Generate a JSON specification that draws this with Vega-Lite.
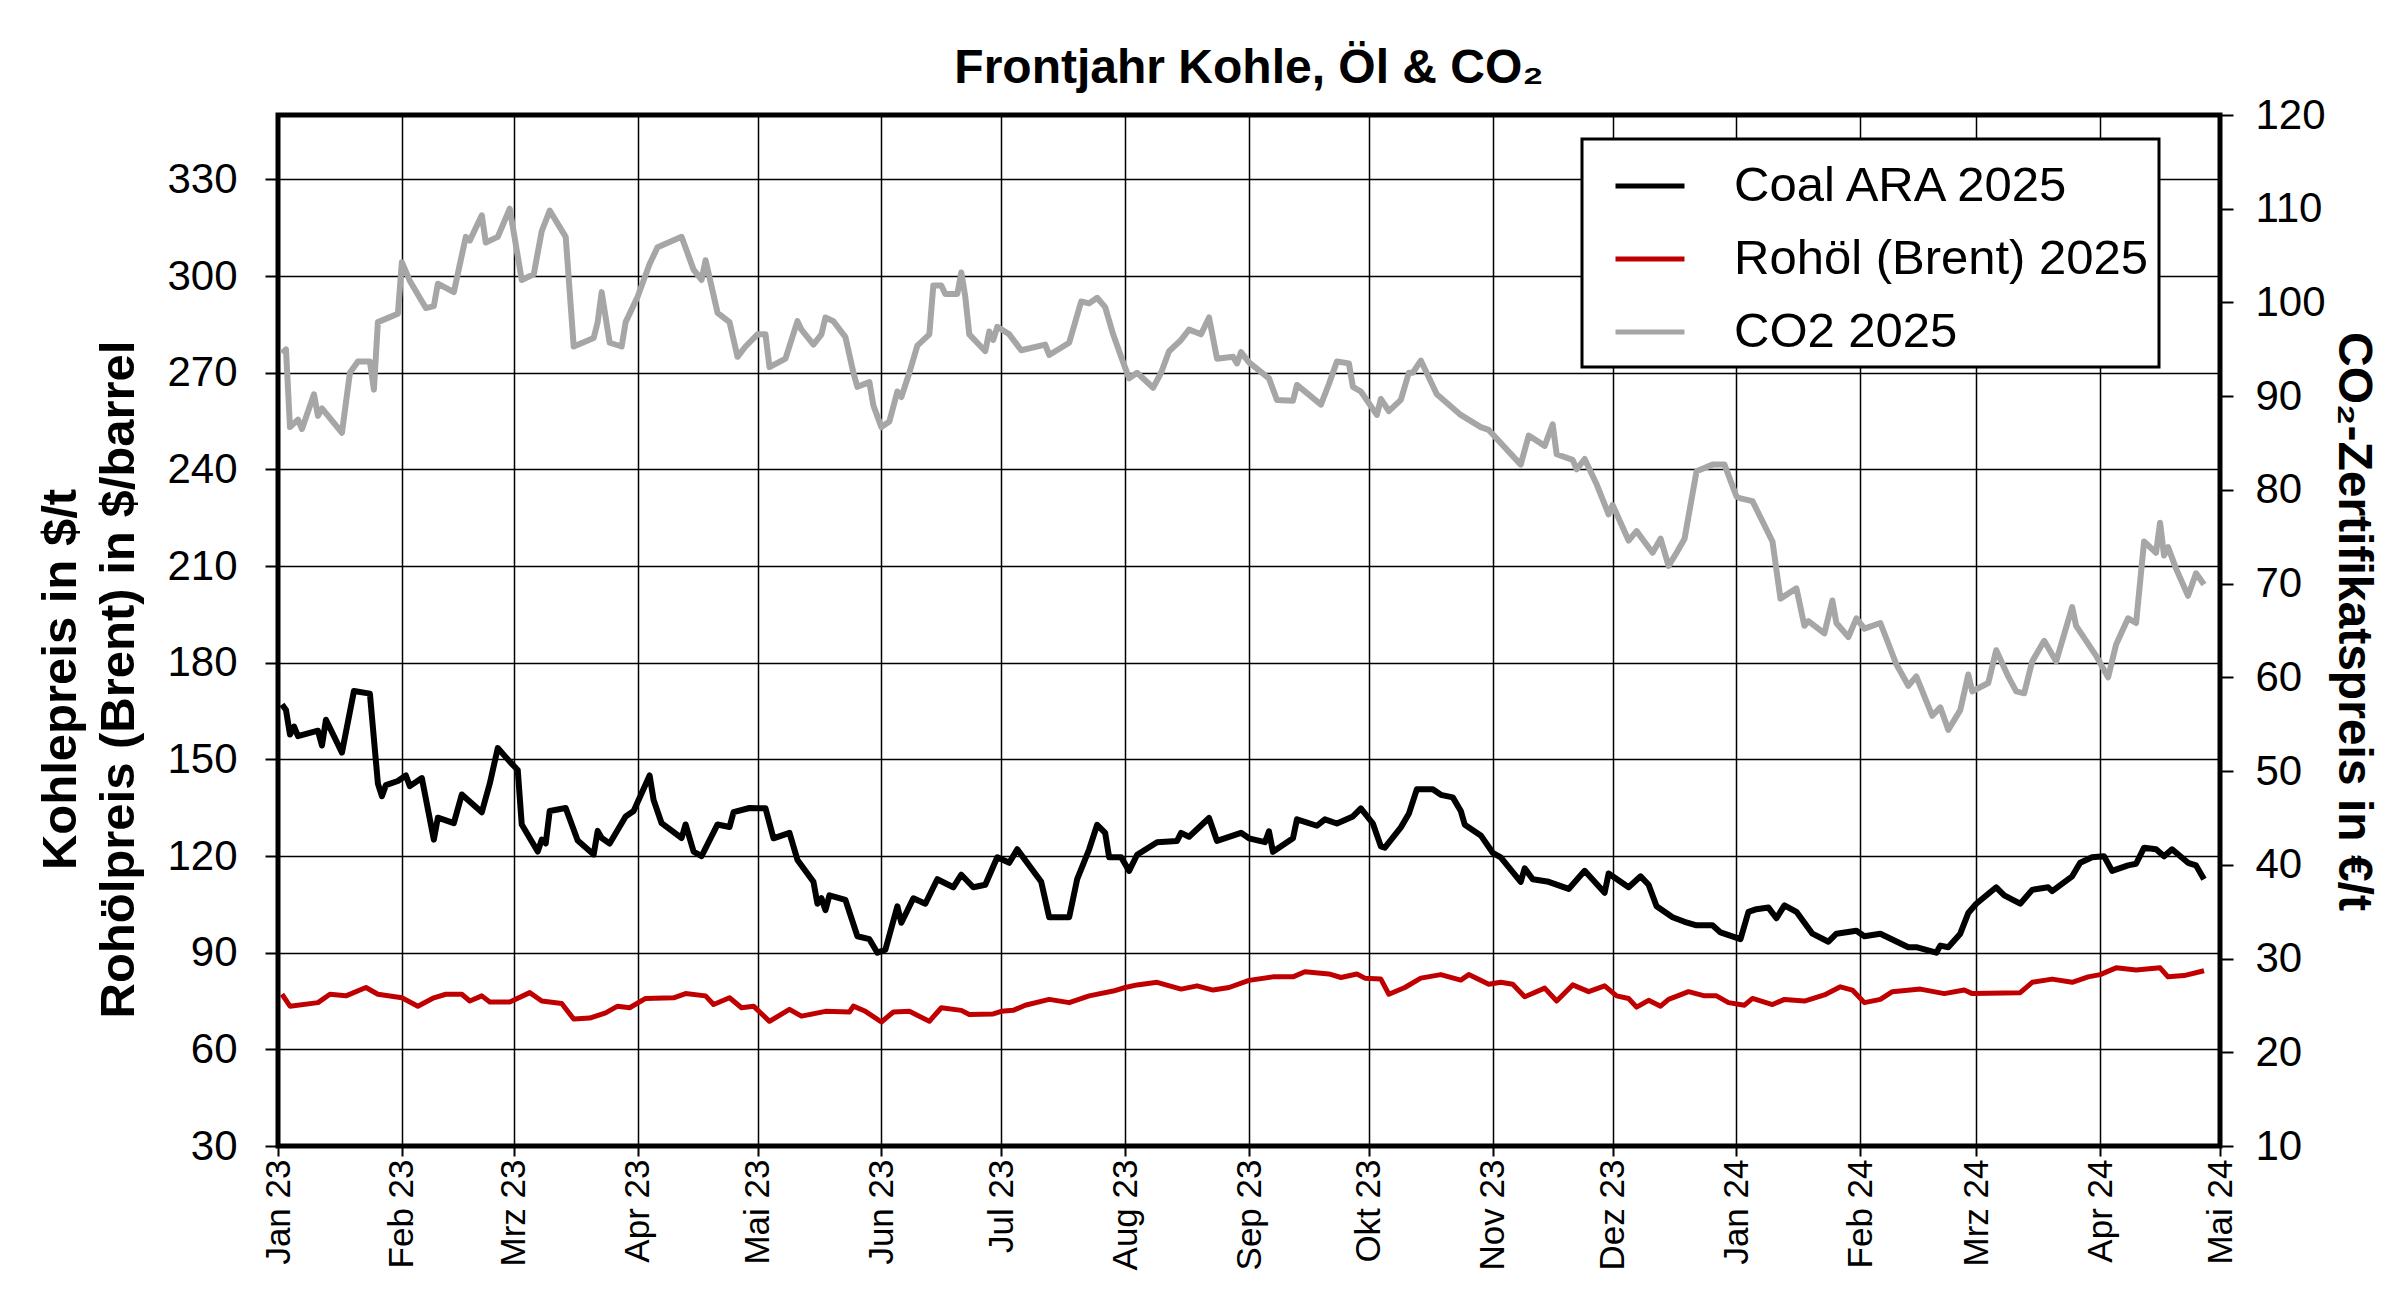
{
  "$schema": "https://vega.github.io/schema/vega-lite/v6.json",
  "width": 1942,
  "height": 1031,
  "autosize": {"type": "none"},
  "padding": {"left": 278, "top": 115, "right": 180, "bottom": 168},
  "background": "white",
  "title": {
    "text": "Frontjahr Kohle, Öl & CO₂",
    "fontSize": 48,
    "fontWeight": "bold",
    "color": "black",
    "anchor": "middle",
    "offset": 1
  },
  "datasets": {
    "coal": [
      {"date": "2023-01-02", "value": 167}, {"date": "2023-01-03", "value": 165.3}, {"date": "2023-01-04", "value": 157.7},
      {"date": "2023-01-05", "value": 160.2}, {"date": "2023-01-06", "value": 157.2}, {"date": "2023-01-11", "value": 158.9},
      {"date": "2023-01-12", "value": 154.3}, {"date": "2023-01-13", "value": 162.3}, {"date": "2023-01-17", "value": 152.1},
      {"date": "2023-01-20", "value": 171.2}, {"date": "2023-01-24", "value": 170.4}, {"date": "2023-01-26", "value": 142.5},
      {"date": "2023-01-27", "value": 138.6}, {"date": "2023-01-28", "value": 142}, {"date": "2023-01-31", "value": 143.3},
      {"date": "2023-02-02", "value": 145}, {"date": "2023-02-03", "value": 141.7}, {"date": "2023-02-06", "value": 144.2},
      {"date": "2023-02-09", "value": 125.1}, {"date": "2023-02-10", "value": 131.9}, {"date": "2023-02-14", "value": 130.2},
      {"date": "2023-02-16", "value": 139.1}, {"date": "2023-02-21", "value": 133.6}, {"date": "2023-02-23", "value": 142.5},
      {"date": "2023-02-25", "value": 153.5}, {"date": "2023-02-28", "value": 149.3}, {"date": "2023-03-02", "value": 146.7},
      {"date": "2023-03-03", "value": 129.8}, {"date": "2023-03-07", "value": 121.4}, {"date": "2023-03-08", "value": 125.1},
      {"date": "2023-03-09", "value": 123.9}, {"date": "2023-03-10", "value": 134}, {"date": "2023-03-14", "value": 134.9},
      {"date": "2023-03-17", "value": 124.8}, {"date": "2023-03-21", "value": 120.5}, {"date": "2023-03-22", "value": 127.8},
      {"date": "2023-03-23", "value": 125.6}, {"date": "2023-03-25", "value": 123.9}, {"date": "2023-03-29", "value": 132.3},
      {"date": "2023-03-31", "value": 134}, {"date": "2023-04-04", "value": 145}, {"date": "2023-04-05", "value": 137.4},
      {"date": "2023-04-07", "value": 130.2}, {"date": "2023-04-12", "value": 125.6}, {"date": "2023-04-13", "value": 129.8},
      {"date": "2023-04-15", "value": 121.4}, {"date": "2023-04-17", "value": 120}, {"date": "2023-04-21", "value": 129.8},
      {"date": "2023-04-24", "value": 129}, {"date": "2023-04-25", "value": 133.6}, {"date": "2023-04-29", "value": 134.9},
      {"date": "2023-05-01", "value": 134.8}, {"date": "2023-05-03", "value": 134.8}, {"date": "2023-05-05", "value": 125.5},
      {"date": "2023-05-09", "value": 127.2}, {"date": "2023-05-11", "value": 118.8}, {"date": "2023-05-15", "value": 112},
      {"date": "2023-05-16", "value": 105.2}, {"date": "2023-05-17", "value": 106.9}, {"date": "2023-05-18", "value": 103.2},
      {"date": "2023-05-19", "value": 107.8}, {"date": "2023-05-23", "value": 106.4}, {"date": "2023-05-26", "value": 95.1},
      {"date": "2023-05-29", "value": 94.2}, {"date": "2023-05-31", "value": 90}, {"date": "2023-06-02", "value": 90.9},
      {"date": "2023-06-05", "value": 104.4}, {"date": "2023-06-06", "value": 99.3}, {"date": "2023-06-09", "value": 106.9},
      {"date": "2023-06-12", "value": 105.2}, {"date": "2023-06-15", "value": 112.8}, {"date": "2023-06-19", "value": 110.3},
      {"date": "2023-06-21", "value": 114.2}, {"date": "2023-06-24", "value": 110.3}, {"date": "2023-06-27", "value": 111.1},
      {"date": "2023-06-30", "value": 119.6}, {"date": "2023-07-03", "value": 117.9}, {"date": "2023-07-05", "value": 122.1},
      {"date": "2023-07-11", "value": 112}, {"date": "2023-07-13", "value": 101}, {"date": "2023-07-18", "value": 101},
      {"date": "2023-07-20", "value": 112.8}, {"date": "2023-07-23", "value": 122.1}, {"date": "2023-07-25", "value": 129.7},
      {"date": "2023-07-27", "value": 127.2}, {"date": "2023-07-28", "value": 119.6}, {"date": "2023-07-31", "value": 119.6},
      {"date": "2023-08-02", "value": 115.4}, {"date": "2023-08-04", "value": 120.4}, {"date": "2023-08-09", "value": 124.3},
      {"date": "2023-08-14", "value": 124.7}, {"date": "2023-08-15", "value": 127.2}, {"date": "2023-08-17", "value": 126},
      {"date": "2023-08-22", "value": 131.8}, {"date": "2023-08-24", "value": 124.7}, {"date": "2023-08-30", "value": 127.2},
      {"date": "2023-09-01", "value": 125.5}, {"date": "2023-09-05", "value": 124.3}, {"date": "2023-09-06", "value": 127.7},
      {"date": "2023-09-07", "value": 121.3}, {"date": "2023-09-12", "value": 125.5}, {"date": "2023-09-13", "value": 131.4},
      {"date": "2023-09-18", "value": 129.4}, {"date": "2023-09-20", "value": 131.4}, {"date": "2023-09-23", "value": 130.1},
      {"date": "2023-09-27", "value": 132.3}, {"date": "2023-09-29", "value": 134.8}, {"date": "2023-10-02", "value": 130.1},
      {"date": "2023-10-04", "value": 123}, {"date": "2023-10-05", "value": 122.6}, {"date": "2023-10-09", "value": 128.9},
      {"date": "2023-10-11", "value": 133.1}, {"date": "2023-10-13", "value": 140.7}, {"date": "2023-10-17", "value": 140.7},
      {"date": "2023-10-19", "value": 139}, {"date": "2023-10-22", "value": 138.2}, {"date": "2023-10-24", "value": 134},
      {"date": "2023-10-25", "value": 129.7}, {"date": "2023-10-29", "value": 126.4}, {"date": "2023-11-01", "value": 121},
      {"date": "2023-11-03", "value": 119.6}, {"date": "2023-11-08", "value": 112}, {"date": "2023-11-09", "value": 116.2},
      {"date": "2023-11-11", "value": 112.8}, {"date": "2023-11-15", "value": 112}, {"date": "2023-11-20", "value": 109.8},
      {"date": "2023-11-24", "value": 115.4}, {"date": "2023-11-29", "value": 108.6}, {"date": "2023-11-30", "value": 114.6},
      {"date": "2023-12-05", "value": 110.3}, {"date": "2023-12-08", "value": 113.7}, {"date": "2023-12-10", "value": 111.1},
      {"date": "2023-12-12", "value": 104.4}, {"date": "2023-12-16", "value": 101}, {"date": "2023-12-19", "value": 99.6},
      {"date": "2023-12-22", "value": 98.5}, {"date": "2023-12-26", "value": 98.5}, {"date": "2023-12-28", "value": 96.3},
      {"date": "2024-01-02", "value": 94.2}, {"date": "2024-01-04", "value": 102.7}, {"date": "2024-01-06", "value": 103.5},
      {"date": "2024-01-09", "value": 104}, {"date": "2024-01-11", "value": 100.7}, {"date": "2024-01-13", "value": 104.7},
      {"date": "2024-01-16", "value": 102.7}, {"date": "2024-01-20", "value": 95.9}, {"date": "2024-01-24", "value": 93.4},
      {"date": "2024-01-26", "value": 95.9}, {"date": "2024-01-31", "value": 96.8}, {"date": "2024-02-02", "value": 95.1},
      {"date": "2024-02-06", "value": 95.9}, {"date": "2024-02-13", "value": 91.7}, {"date": "2024-02-15", "value": 91.7},
      {"date": "2024-02-20", "value": 90}, {"date": "2024-02-21", "value": 92.2}, {"date": "2024-02-23", "value": 91.7},
      {"date": "2024-02-26", "value": 95.9}, {"date": "2024-02-28", "value": 102.3}, {"date": "2024-03-01", "value": 105.2},
      {"date": "2024-03-06", "value": 110.3}, {"date": "2024-03-08", "value": 107.8}, {"date": "2024-03-12", "value": 105.2},
      {"date": "2024-03-15", "value": 109.5}, {"date": "2024-03-19", "value": 110.3}, {"date": "2024-03-20", "value": 109.1},
      {"date": "2024-03-25", "value": 113.7}, {"date": "2024-03-27", "value": 117.9}, {"date": "2024-03-30", "value": 119.6},
      {"date": "2024-04-02", "value": 119.9}, {"date": "2024-04-04", "value": 115.4}, {"date": "2024-04-08", "value": 117.1},
      {"date": "2024-04-10", "value": 117.6}, {"date": "2024-04-12", "value": 122.6}, {"date": "2024-04-15", "value": 122.1},
      {"date": "2024-04-17", "value": 119.9}, {"date": "2024-04-19", "value": 122.1}, {"date": "2024-04-23", "value": 117.9},
      {"date": "2024-04-25", "value": 117.1}, {"date": "2024-04-27", "value": 112.8}
    ],
    "oil": [
      {"date": "2023-01-02", "value": 77.1}, {"date": "2023-01-04", "value": 73.4}, {"date": "2023-01-11", "value": 74.5},
      {"date": "2023-01-14", "value": 77.1}, {"date": "2023-01-18", "value": 76.6}, {"date": "2023-01-23", "value": 79.2},
      {"date": "2023-01-26", "value": 77.1}, {"date": "2023-02-01", "value": 76}, {"date": "2023-02-05", "value": 73.4},
      {"date": "2023-02-09", "value": 76}, {"date": "2023-02-12", "value": 77.1}, {"date": "2023-02-16", "value": 77.1},
      {"date": "2023-02-18", "value": 75}, {"date": "2023-02-21", "value": 76.6}, {"date": "2023-02-23", "value": 74.7},
      {"date": "2023-02-28", "value": 74.7}, {"date": "2023-03-05", "value": 77.6}, {"date": "2023-03-08", "value": 75},
      {"date": "2023-03-13", "value": 74.2}, {"date": "2023-03-16", "value": 69.4}, {"date": "2023-03-20", "value": 69.7},
      {"date": "2023-03-24", "value": 71.3}, {"date": "2023-03-27", "value": 73.4}, {"date": "2023-03-30", "value": 72.9},
      {"date": "2023-04-03", "value": 75.8}, {"date": "2023-04-10", "value": 76}, {"date": "2023-04-13", "value": 77.3},
      {"date": "2023-04-18", "value": 76.6}, {"date": "2023-04-20", "value": 73.9}, {"date": "2023-04-24", "value": 76},
      {"date": "2023-04-27", "value": 72.9}, {"date": "2023-04-30", "value": 73.4}, {"date": "2023-05-04", "value": 68.7},
      {"date": "2023-05-09", "value": 72.4}, {"date": "2023-05-12", "value": 70.3}, {"date": "2023-05-18", "value": 71.8},
      {"date": "2023-05-24", "value": 71.6}, {"date": "2023-05-25", "value": 73.4}, {"date": "2023-05-28", "value": 71.8},
      {"date": "2023-06-01", "value": 68.5}, {"date": "2023-06-04", "value": 71.6}, {"date": "2023-06-08", "value": 71.8},
      {"date": "2023-06-13", "value": 68.7}, {"date": "2023-06-16", "value": 72.9}, {"date": "2023-06-21", "value": 72.1},
      {"date": "2023-06-23", "value": 70.8}, {"date": "2023-06-29", "value": 71}, {"date": "2023-07-01", "value": 71.8},
      {"date": "2023-07-04", "value": 72.1}, {"date": "2023-07-07", "value": 73.7}, {"date": "2023-07-13", "value": 75.5},
      {"date": "2023-07-18", "value": 74.5}, {"date": "2023-07-23", "value": 76.6}, {"date": "2023-07-29", "value": 78.1},
      {"date": "2023-08-01", "value": 79.2}, {"date": "2023-08-04", "value": 80}, {"date": "2023-08-09", "value": 80.8},
      {"date": "2023-08-15", "value": 78.7}, {"date": "2023-08-19", "value": 79.7}, {"date": "2023-08-23", "value": 78.4},
      {"date": "2023-08-27", "value": 79.2}, {"date": "2023-09-01", "value": 81.4}, {"date": "2023-09-07", "value": 82.5},
      {"date": "2023-09-12", "value": 82.5}, {"date": "2023-09-15", "value": 84.1}, {"date": "2023-09-21", "value": 83.4},
      {"date": "2023-09-24", "value": 82.3}, {"date": "2023-09-28", "value": 83.4}, {"date": "2023-09-30", "value": 82.1},
      {"date": "2023-10-04", "value": 81.8}, {"date": "2023-10-06", "value": 77.1}, {"date": "2023-10-10", "value": 79.2},
      {"date": "2023-10-14", "value": 82.1}, {"date": "2023-10-19", "value": 83.2}, {"date": "2023-10-24", "value": 81.5},
      {"date": "2023-10-26", "value": 83.2}, {"date": "2023-10-31", "value": 80.2}, {"date": "2023-11-03", "value": 80.8},
      {"date": "2023-11-06", "value": 80.2}, {"date": "2023-11-09", "value": 76.3}, {"date": "2023-11-14", "value": 79},
      {"date": "2023-11-17", "value": 75}, {"date": "2023-11-21", "value": 80}, {"date": "2023-11-25", "value": 77.9},
      {"date": "2023-11-29", "value": 79.7}, {"date": "2023-12-02", "value": 76.6}, {"date": "2023-12-05", "value": 75.8},
      {"date": "2023-12-07", "value": 73.1}, {"date": "2023-12-10", "value": 75.2}, {"date": "2023-12-13", "value": 73.4},
      {"date": "2023-12-15", "value": 75.5}, {"date": "2023-12-20", "value": 77.9}, {"date": "2023-12-24", "value": 76.6},
      {"date": "2023-12-27", "value": 76.6}, {"date": "2023-12-30", "value": 74.5}, {"date": "2024-01-03", "value": 73.7},
      {"date": "2024-01-05", "value": 75.8}, {"date": "2024-01-10", "value": 73.9}, {"date": "2024-01-13", "value": 75.5},
      {"date": "2024-01-18", "value": 75}, {"date": "2024-01-23", "value": 76.9}, {"date": "2024-01-27", "value": 79.4},
      {"date": "2024-01-30", "value": 78.4}, {"date": "2024-02-02", "value": 74.5}, {"date": "2024-02-06", "value": 75.5},
      {"date": "2024-02-09", "value": 77.9}, {"date": "2024-02-16", "value": 78.7}, {"date": "2024-02-22", "value": 77.3},
      {"date": "2024-02-27", "value": 78.4}, {"date": "2024-02-29", "value": 77.3}, {"date": "2024-03-12", "value": 77.6},
      {"date": "2024-03-15", "value": 80.8}, {"date": "2024-03-20", "value": 81.8}, {"date": "2024-03-25", "value": 80.8},
      {"date": "2024-03-29", "value": 82.5}, {"date": "2024-04-01", "value": 83.2}, {"date": "2024-04-05", "value": 85.3},
      {"date": "2024-04-10", "value": 84.6}, {"date": "2024-04-16", "value": 85.3}, {"date": "2024-04-18", "value": 82.5},
      {"date": "2024-04-22", "value": 82.9}, {"date": "2024-04-27", "value": 84.4}
    ],
    "co2": [
      {"date": "2023-01-02", "value": 94.6}, {"date": "2023-01-03", "value": 95}, {"date": "2023-01-04", "value": 86.7},
      {"date": "2023-01-06", "value": 87.5}, {"date": "2023-01-07", "value": 86.5}, {"date": "2023-01-10", "value": 90.2},
      {"date": "2023-01-11", "value": 87.9}, {"date": "2023-01-12", "value": 88.7}, {"date": "2023-01-17", "value": 86.1},
      {"date": "2023-01-19", "value": 92.5}, {"date": "2023-01-21", "value": 93.7}, {"date": "2023-01-24", "value": 93.7},
      {"date": "2023-01-25", "value": 90.7}, {"date": "2023-01-26", "value": 97.9}, {"date": "2023-01-31", "value": 98.8},
      {"date": "2023-02-01", "value": 104.3}, {"date": "2023-02-03", "value": 102.3}, {"date": "2023-02-07", "value": 99.4},
      {"date": "2023-02-09", "value": 99.6}, {"date": "2023-02-10", "value": 102}, {"date": "2023-02-14", "value": 101.1},
      {"date": "2023-02-17", "value": 107}, {"date": "2023-02-18", "value": 106.6}, {"date": "2023-02-21", "value": 109.3},
      {"date": "2023-02-22", "value": 106.4}, {"date": "2023-02-25", "value": 107}, {"date": "2023-02-28", "value": 110},
      {"date": "2023-03-03", "value": 102.4}, {"date": "2023-03-06", "value": 103}, {"date": "2023-03-08", "value": 107.6},
      {"date": "2023-03-10", "value": 109.8}, {"date": "2023-03-14", "value": 107}, {"date": "2023-03-16", "value": 95.3},
      {"date": "2023-03-21", "value": 96.2}, {"date": "2023-03-22", "value": 97.9}, {"date": "2023-03-23", "value": 101.1},
      {"date": "2023-03-25", "value": 95.7}, {"date": "2023-03-28", "value": 95.3}, {"date": "2023-03-29", "value": 97.9},
      {"date": "2023-04-01", "value": 100.6}, {"date": "2023-04-04", "value": 104.1}, {"date": "2023-04-06", "value": 105.9},
      {"date": "2023-04-12", "value": 107}, {"date": "2023-04-15", "value": 103.5}, {"date": "2023-04-17", "value": 102.4},
      {"date": "2023-04-18", "value": 104.5}, {"date": "2023-04-21", "value": 98.9}, {"date": "2023-04-24", "value": 97.9},
      {"date": "2023-04-26", "value": 94.2}, {"date": "2023-04-28", "value": 95.3}, {"date": "2023-05-01", "value": 96.6},
      {"date": "2023-05-03", "value": 96.6}, {"date": "2023-05-04", "value": 93.1}, {"date": "2023-05-08", "value": 94},
      {"date": "2023-05-11", "value": 98}, {"date": "2023-05-12", "value": 97.1}, {"date": "2023-05-15", "value": 95.5},
      {"date": "2023-05-17", "value": 96.6}, {"date": "2023-05-18", "value": 98.4}, {"date": "2023-05-20", "value": 98},
      {"date": "2023-05-23", "value": 96.3}, {"date": "2023-05-25", "value": 92.5}, {"date": "2023-05-26", "value": 91},
      {"date": "2023-05-29", "value": 91.5}, {"date": "2023-05-30", "value": 89}, {"date": "2023-06-01", "value": 86.7},
      {"date": "2023-06-03", "value": 87.3}, {"date": "2023-06-05", "value": 90.5}, {"date": "2023-06-06", "value": 89.9},
      {"date": "2023-06-08", "value": 92.5}, {"date": "2023-06-10", "value": 95.4}, {"date": "2023-06-13", "value": 96.6},
      {"date": "2023-06-14", "value": 101.8}, {"date": "2023-06-16", "value": 101.8}, {"date": "2023-06-17", "value": 100.9},
      {"date": "2023-06-20", "value": 100.9}, {"date": "2023-06-21", "value": 103.2}, {"date": "2023-06-22", "value": 100.6},
      {"date": "2023-06-23", "value": 96.6}, {"date": "2023-06-27", "value": 94.8}, {"date": "2023-06-28", "value": 96.9},
      {"date": "2023-06-29", "value": 96}, {"date": "2023-06-30", "value": 97.4}, {"date": "2023-07-03", "value": 96.6},
      {"date": "2023-07-06", "value": 94.9}, {"date": "2023-07-12", "value": 95.5}, {"date": "2023-07-13", "value": 94.4},
      {"date": "2023-07-18", "value": 95.7}, {"date": "2023-07-21", "value": 100.1}, {"date": "2023-07-23", "value": 99.9},
      {"date": "2023-07-25", "value": 100.5}, {"date": "2023-07-27", "value": 99.5}, {"date": "2023-07-29", "value": 96.6},
      {"date": "2023-07-31", "value": 94.2}, {"date": "2023-08-02", "value": 91.9}, {"date": "2023-08-04", "value": 92.5},
      {"date": "2023-08-08", "value": 90.9}, {"date": "2023-08-10", "value": 92.5}, {"date": "2023-08-12", "value": 94.8},
      {"date": "2023-08-15", "value": 96}, {"date": "2023-08-17", "value": 97.1}, {"date": "2023-08-20", "value": 96.6},
      {"date": "2023-08-22", "value": 98.4}, {"date": "2023-08-24", "value": 94}, {"date": "2023-08-28", "value": 94.2},
      {"date": "2023-08-29", "value": 93.5}, {"date": "2023-08-30", "value": 94.7}, {"date": "2023-09-01", "value": 93.6},
      {"date": "2023-09-06", "value": 91.9}, {"date": "2023-09-08", "value": 89.6}, {"date": "2023-09-12", "value": 89.5},
      {"date": "2023-09-13", "value": 91.2}, {"date": "2023-09-19", "value": 89.1}, {"date": "2023-09-21", "value": 91.3},
      {"date": "2023-09-23", "value": 93.7}, {"date": "2023-09-26", "value": 93.5}, {"date": "2023-09-27", "value": 91},
      {"date": "2023-09-29", "value": 90.5}, {"date": "2023-10-03", "value": 88}, {"date": "2023-10-04", "value": 89.7},
      {"date": "2023-10-06", "value": 88.4}, {"date": "2023-10-09", "value": 89.6}, {"date": "2023-10-11", "value": 92.5},
      {"date": "2023-10-12", "value": 92.5}, {"date": "2023-10-14", "value": 93.8}, {"date": "2023-10-18", "value": 90.2},
      {"date": "2023-10-24", "value": 88}, {"date": "2023-10-29", "value": 86.7}, {"date": "2023-10-31", "value": 86.4},
      {"date": "2023-11-08", "value": 82.7}, {"date": "2023-11-10", "value": 85.8}, {"date": "2023-11-14", "value": 84.7},
      {"date": "2023-11-16", "value": 87}, {"date": "2023-11-17", "value": 83.8}, {"date": "2023-11-21", "value": 83.2},
      {"date": "2023-11-22", "value": 82.2}, {"date": "2023-11-24", "value": 83.3}, {"date": "2023-11-27", "value": 80.6},
      {"date": "2023-11-30", "value": 77.4}, {"date": "2023-12-01", "value": 78.4}, {"date": "2023-12-05", "value": 74.6},
      {"date": "2023-12-07", "value": 75.6}, {"date": "2023-12-11", "value": 73.3}, {"date": "2023-12-13", "value": 74.8},
      {"date": "2023-12-15", "value": 71.9}, {"date": "2023-12-17", "value": 73.3}, {"date": "2023-12-19", "value": 74.8},
      {"date": "2023-12-22", "value": 82}, {"date": "2023-12-26", "value": 82.7}, {"date": "2023-12-29", "value": 82.7},
      {"date": "2024-01-01", "value": 79.3}, {"date": "2024-01-02", "value": 79.1}, {"date": "2024-01-05", "value": 78.8},
      {"date": "2024-01-10", "value": 74.5}, {"date": "2024-01-12", "value": 68.4}, {"date": "2024-01-16", "value": 69.5},
      {"date": "2024-01-18", "value": 65.5}, {"date": "2024-01-19", "value": 66}, {"date": "2024-01-23", "value": 64.7},
      {"date": "2024-01-25", "value": 68.2}, {"date": "2024-01-26", "value": 65.8}, {"date": "2024-01-29", "value": 64.3},
      {"date": "2024-01-31", "value": 66.3}, {"date": "2024-02-02", "value": 65.2}, {"date": "2024-02-06", "value": 65.8},
      {"date": "2024-02-10", "value": 61.4}, {"date": "2024-02-13", "value": 59.1}, {"date": "2024-02-15", "value": 60.1},
      {"date": "2024-02-19", "value": 55.9}, {"date": "2024-02-21", "value": 56.8}, {"date": "2024-02-23", "value": 54.4},
      {"date": "2024-02-26", "value": 56.5}, {"date": "2024-02-28", "value": 60.3}, {"date": "2024-02-29", "value": 58.5},
      {"date": "2024-03-04", "value": 59.4}, {"date": "2024-03-06", "value": 62.9}, {"date": "2024-03-09", "value": 60.1},
      {"date": "2024-03-11", "value": 58.5}, {"date": "2024-03-13", "value": 58.3}, {"date": "2024-03-15", "value": 61.7},
      {"date": "2024-03-18", "value": 63.9}, {"date": "2024-03-21", "value": 61.7}, {"date": "2024-03-25", "value": 67.5},
      {"date": "2024-03-26", "value": 65.5}, {"date": "2024-03-31", "value": 62.3}, {"date": "2024-04-03", "value": 60},
      {"date": "2024-04-05", "value": 63.5}, {"date": "2024-04-08", "value": 66.3}, {"date": "2024-04-10", "value": 65.8},
      {"date": "2024-04-12", "value": 74.5}, {"date": "2024-04-15", "value": 73.3}, {"date": "2024-04-16", "value": 76.5},
      {"date": "2024-04-17", "value": 73}, {"date": "2024-04-18", "value": 73.9}, {"date": "2024-04-20", "value": 71.6},
      {"date": "2024-04-23", "value": 68.7}, {"date": "2024-04-25", "value": 71.1}, {"date": "2024-04-27", "value": 69.9}
    ]
  },
  "encoding": {
    "x": {
      "field": "date",
      "type": "temporal",
      "scale": {
        "type": "utc",
        "domain": [
          {"year": 2023, "month": 1, "date": 1, "utc": true},
          {"year": 2024, "month": 5, "date": 1, "utc": true}
        ]
      },
      "axis": {
        "title": null,
        "tickCount": {"interval": "month", "step": 1},
        "labelExpr": "['Jan','Feb','Mrz','Apr','Mai','Jun','Jul','Aug','Sep','Okt','Nov','Dez'][utcmonth(datum.value)] + ' ' + utcFormat(datum.value, '%y')",
        "labelAngle": 270,
        "labelAlign": "right",
        "labelBaseline": "middle",
        "labelFontSize": 35,
        "labelPadding": 3,
        "labelOverlap": false,
        "labelFlush": false,
        "tickSize": 10,
        "grid": true
      }
    }
  },
  "layer": [
    {
      "encoding": {
        "y": {
          "field": "value",
          "type": "quantitative",
          "scale": {"domain": [30, 350], "nice": false, "zero": false},
          "axis": {
            "orient": "left",
            "values": [30, 60, 90, 120, 150, 180, 210, 240, 270, 300, 330],
            "grid": true,
            "labelFontSize": 42,
            "labelPadding": 28,
            "tickSize": 13,
            "title": ["Kohlepreis in $/t", "Rohölpreis (Brent) in $/barrel"],
            "titleFontSize": 49,
            "titleFontWeight": "bold",
            "titleLineHeight": 58,
            "titleAngle": 270,
            "titleAlign": "center",
            "titleBaseline": "middle",
            "titleX": -218,
            "titleY": 564
          }
        }
      },
      "layer": [
        {
          "data": {"name": "oil"},
          "mark": {"type": "line", "strokeWidth": 5, "strokeJoin": "round"},
          "encoding": {
            "color": {
              "datum": "Rohöl (Brent) 2025",
              "type": "nominal",
              "scale": {
                "domain": ["Coal ARA 2025", "Rohöl (Brent) 2025", "CO2 2025"],
                "range": ["#000000", "#C00000", "#A6A6A6"]
              },
              "legend": {
                "title": null,
                "orient": "none",
                "legendX": 1304,
                "legendY": 24,
                "direction": "vertical",
                "fillColor": "white",
                "strokeColor": "black",
                "padding": 10,
                "symbolType": "stroke",
                "symbolSize": 4761,
                "symbolStrokeWidth": 5,
                "symbolOffset": 21,
                "labelFontSize": 49,
                "labelOffset": 47,
                "labelColor": "black",
                "labelExpr": "datum.label + '\u00a0\u00a0'",
                "rowPadding": 11,
                "labelLimit": 800
              }
            }
          }
        },
        {
          "data": {"name": "coal"},
          "mark": {"type": "line", "strokeWidth": 6, "strokeJoin": "round"},
          "encoding": {
            "color": {"datum": "Coal ARA 2025", "type": "nominal"}
          }
        }
      ]
    },
    {
      "data": {"name": "co2"},
      "mark": {"type": "line", "strokeWidth": 6, "strokeJoin": "round"},
      "encoding": {
        "y": {
          "field": "value",
          "type": "quantitative",
          "scale": {"domain": [10, 120], "nice": false, "zero": false},
          "axis": {
            "orient": "right",
            "values": [10, 20, 30, 40, 50, 60, 70, 80, 90, 100, 110, 120],
            "grid": false,
            "labelFontSize": 42,
            "labelPadding": 22,
            "tickSize": 13,
            "title": "CO₂-Zertifikatspreis in €/t",
            "titleFontSize": 48,
            "titleFontWeight": "bold",
            "titleAngle": 90,
            "titleAlign": "center",
            "titleBaseline": "middle",
            "titleX": 132,
            "titleY": 506
          }
        },
        "color": {"datum": "CO2 2025", "type": "nominal"}
      }
    }
  ],
  "resolve": {"scale": {"y": "independent"}},
  "config": {
    "font": "Liberation Sans",
    "view": {"stroke": "black", "strokeWidth": 5},
    "axis": {
      "domain": false,
      "gridColor": "black",
      "gridWidth": 1.5,
      "gridOpacity": 1,
      "tickColor": "black",
      "tickWidth": 2,
      "labelColor": "black",
      "labelFont": "Liberation Sans",
      "titleColor": "black",
      "titleFont": "Liberation Sans"
    },
    "legend": {
      "strokeWidth": 3,
      "labelFont": "Liberation Sans"
    }
  }
}
